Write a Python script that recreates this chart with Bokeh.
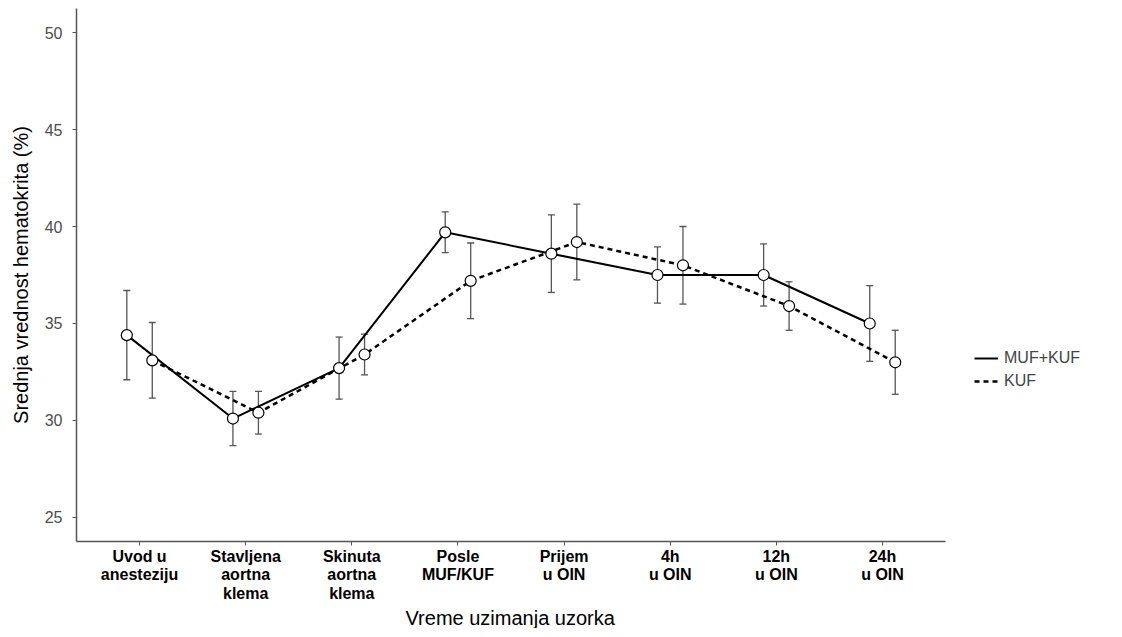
from bokeh.plotting import figure
from bokeh.models import (ColumnDataSource, Whisker, TeeHead, Legend, LegendItem,
                          FixedTicker, Range1d, Title)
from bokeh.embed import file_html
from bokeh.resources import INLINE

# ---- data ----
categories = ["Uvod u\nanesteziju", "Stavljena\naortna\nklema", "Skinuta\naortna\nklema",
              "Posle\nMUF/KUF", "Prijem\nu OIN", "4h\nu OIN", "12h\nu OIN", "24h\nu OIN"]
muf_mean = [34.4, 30.1, 32.7, 39.7, 38.6, 37.5, 37.5, 35.0]
muf_sd = [2.3, 1.4, 1.6, 1.05, 2.0, 1.45, 1.6, 1.95]
kuf_mean = [33.1, 30.4, 33.4, 37.2, 39.2, 38.0, 35.9, 33.0]
kuf_sd = [1.95, 1.1, 1.05, 1.95, 1.95, 2.0, 1.25, 1.65]
y_ticks = [25, 30, 35, 40, 45, 50]
series_names = ["MUF+KUF", "KUF"]
x_title = "Vreme uzimanja uzorka"
y_title = "Srednja vrednost hematokrita (%)"

DODGE = 0.12
pos = list(range(1, len(categories) + 1))
X_LO, X_HI = 0.406, 8.594      # extent of the drawn x axis
X_END = 10.186                 # frame extends right to host the legend

def make_source(means, sds, shift):
    return ColumnDataSource(dict(
        x=[p + shift for p in pos],
        y=means,
        upper=[m + s for m, s in zip(means, sds)],
        lower=[m - s for m, s in zip(means, sds)],
    ))

src_muf = make_source(muf_mean, muf_sd, -DODGE)
src_kuf = make_source(kuf_mean, kuf_sd, DODGE)

p = figure(width=1114, height=628, output_backend="svg", toolbar_location=None,
           x_range=Range1d(X_LO, X_END), y_range=Range1d(23.76, 51.24),
           min_border_left=76, min_border_top=8, min_border_bottom=0,
           min_border_right=0)
p.outline_line_color = None
p.xgrid.visible = False
p.ygrid.visible = False
p.background_fill_color = "white"

font = "Liberation Sans"

# axes
for ax in (p.xaxis[0], p.yaxis[0]):
    ax.axis_line_color = "#555555"
    ax.axis_line_width = 1.5
    ax.major_tick_line_color = "#555555"
    ax.major_tick_out = 4
    ax.major_tick_in = 0
    ax.minor_tick_line_color = None
    ax.axis_label_text_font = font
    ax.axis_label_text_font_style = "normal"
    ax.axis_label_text_font_size = "20px"
    ax.axis_label_text_color = "black"
    ax.major_label_text_font = font

p.yaxis.ticker = FixedTicker(ticks=y_ticks)
p.yaxis.major_label_text_font_size = "16px"
p.yaxis.major_label_text_color = "#4d4d4d"
p.yaxis.major_label_standoff = 10
p.yaxis.axis_label = y_title
p.yaxis.axis_label_standoff = 10

p.xaxis.bounds = (X_LO, X_HI)
p.xaxis.ticker = FixedTicker(ticks=pos)
p.xaxis.major_label_overrides = {pp: c for pp, c in zip(pos, categories)}
p.xaxis.major_label_text_font_size = "16px"
p.xaxis.major_label_text_font_style = "bold"
p.xaxis.major_label_text_color = "black"
p.xaxis.major_label_standoff = 2
p.xaxis.major_label_text_line_height = 1.1

# x-axis title, centred under the drawn axis rather than the whole frame
t = Title(text=x_title, align="left", offset=329, text_font=font,
          text_font_size="20px", text_font_style="normal", text_color="black",
          standoff=0)
p.add_layout(t, "below")

# error bars
for src in (src_muf, src_kuf):
    w = Whisker(source=src, base="x", upper="upper", lower="lower",
                line_color="#555555", line_width=1.3,
                upper_head=TeeHead(size=7, line_color="#555555", line_width=1.3),
                lower_head=TeeHead(size=7, line_color="#555555", line_width=1.3))
    p.add_layout(w)

# lines
l_muf = p.line("x", "y", source=src_muf, line_color="black", line_width=2)
l_kuf = p.line("x", "y", source=src_kuf, line_color="black", line_width=2.5,
               line_dash="5 4")

# points
for src in (src_muf, src_kuf):
    p.scatter("x", "y", source=src, marker="circle", size=11,
              fill_color="white", line_color="black", line_width=1.2)

legend = Legend(items=[LegendItem(label=series_names[0], renderers=[l_muf]),
                       LegendItem(label=series_names[1], renderers=[l_kuf])],
                location=(898, 150), border_line_color=None,
                background_fill_alpha=0, label_text_font=font,
                label_text_font_size="16px", glyph_width=24, spacing=3,
                label_standoff=6, padding=0)
p.add_layout(legend, "center")

open("out.html", "w").write(file_html(p, INLINE))
